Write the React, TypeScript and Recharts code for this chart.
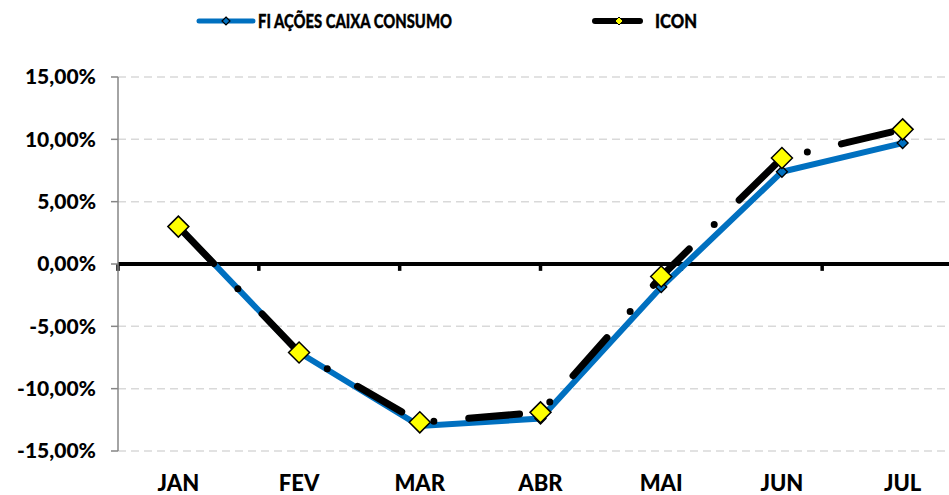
import React from "react";
import {
  LineChart,
  Line,
  XAxis,
  YAxis,
  CartesianGrid,
  ReferenceLine,
} from "recharts";

const months = ["JAN", "FEV", "MAR", "ABR", "MAI", "JUN", "JUL"];
const fundValues = [3.0, -7.1, -13.0, -12.4, -1.85, 7.4, 9.7];
const iconValues = [3.0, -7.1, -12.7, -11.9, -1.0, 8.5, 10.8];
const yTicks = [-15, -10, -5, 0, 5, 10, 15];
const boundaries = [0, 1, 2, 3, 4, 5, 6];

const FUND_NAME = "FI AÇÕES CAIXA CONSUMO";
const ICON_NAME = "ICON";

const data = months.map((m, i) => ({
  month: m,
  fund: fundValues[i],
  icon: iconValues[i],
}));

const FONT = "Lato, 'Open Sans', sans-serif";
const BLUE = "#0070C0";

const fmt = (v: number) => `${v.toFixed(2).replace(".", ",")}%`;

const Diamond = (r: number, fill: string, sw: number) => (props: any) => {
  const { cx, cy, index } = props;
  if (cx == null || cy == null) return <g key={index} />;
  return (
    <polygon
      key={index}
      points={`${cx},${cy - r} ${cx + r},${cy} ${cx},${cy + r} ${cx - r},${cy}`}
      fill={fill}
      stroke="#000"
      strokeWidth={sw}
    />
  );
};

const LegendBox = () => (
  <svg
    width={949}
    height={40}
    style={{ position: "absolute", left: 0, top: 0, zIndex: 2 }}
  >
    <line x1={199} y1={21} x2={253} y2={21} stroke={BLUE} strokeWidth={5} strokeLinecap="round" />
    <polygon points="226,17 230,21 226,25 222,21" fill={BLUE} stroke="#000" strokeWidth={1.2} />
    <line x1={595} y1={21} x2={640} y2={21} stroke="#000" strokeWidth={6} strokeLinecap="round" />
    <polygon points="619,17 623,21 619,25 615,21" fill="#FFFF00" stroke="#000" strokeWidth={1} />
    <text
      x={258}
      y={27.5}
      fontSize={18}
      fontWeight={900}
      fill="#000"
      stroke="#000"
      strokeWidth={0.35}
      fontFamily={FONT}
      textLength={194}
      lengthAdjust="spacingAndGlyphs"
    >
      {FUND_NAME}
    </text>
    <text
      x={655}
      y={27.5}
      fontSize={18}
      fontWeight={900}
      fill="#000"
      stroke="#000"
      strokeWidth={0.35}
      fontFamily={FONT}
      textLength={42}
      lengthAdjust="spacingAndGlyphs"
    >
      {ICON_NAME}
    </text>
  </svg>
);

export default function App() {
  return (
    <div
      style={{
        position: "absolute",
        left: 0,
        top: 0,
        width: 949,
        height: 495,
        overflow: "hidden",
        background: "#fff",
      }}
    >
      <LegendBox />
      <LineChart
        width={963}
        height={495}
        data={data}
        margin={{ top: 77, right: 0, bottom: 0, left: 8 }}
      >
        <CartesianGrid
          vertical={false}
          stroke="#D9D9D9"
          strokeDasharray="8 5"
          strokeWidth={1.5}
        />
        <XAxis
          xAxisId="cat"
          dataKey="month"
          scale="band"
          axisLine={false}
          tickLine={false}
          height={44}
          tickMargin={18}
          tick={{ fontSize: 22, fontWeight: 900, fill: "#000", fontFamily: FONT }}
        />
        <XAxis xAxisId="num" type="number" domain={[0, 7]} hide />
        <YAxis
          domain={[-15, 15]}
          ticks={yTicks}
          width={110}
          interval={0}
          tickFormatter={fmt}
          axisLine={{ stroke: "#868686", strokeWidth: 1.5 }}
          tickLine={{ stroke: "#868686", strokeWidth: 1.5 }}
          tickSize={7}
          tickMargin={15}
          tick={{ fontSize: 21, fontWeight: 900, fill: "#000", fontFamily: FONT }}
        />
        <ReferenceLine xAxisId="cat" y={0} stroke="#000" strokeWidth={4} />
        {boundaries.map((b) => (
          <ReferenceLine
            key={b}
            xAxisId="num"
            segment={[
              { x: b, y: 0 },
              { x: b, y: -0.55 },
            ]}
            stroke="#000"
            strokeWidth={3.5}
          />
        ))}
        <Line
          xAxisId="cat"
          type="linear"
          dataKey="fund"
          name={FUND_NAME}
          stroke={BLUE}
          strokeWidth={6}
          dot={Diamond(5.5, BLUE, 1.3)}
          isAnimationActive={false}
        />
        <Line
          xAxisId="cat"
          type="linear"
          dataKey="icon"
          name={ICON_NAME}
          stroke="#000"
          strokeWidth={7}
          strokeLinecap="round"
          strokeDasharray="51 35 0 35"
          dot={Diamond(10.5, "#FFFF00", 1.5)}
          isAnimationActive={false}
        />
      </LineChart>
    </div>
  );
}
